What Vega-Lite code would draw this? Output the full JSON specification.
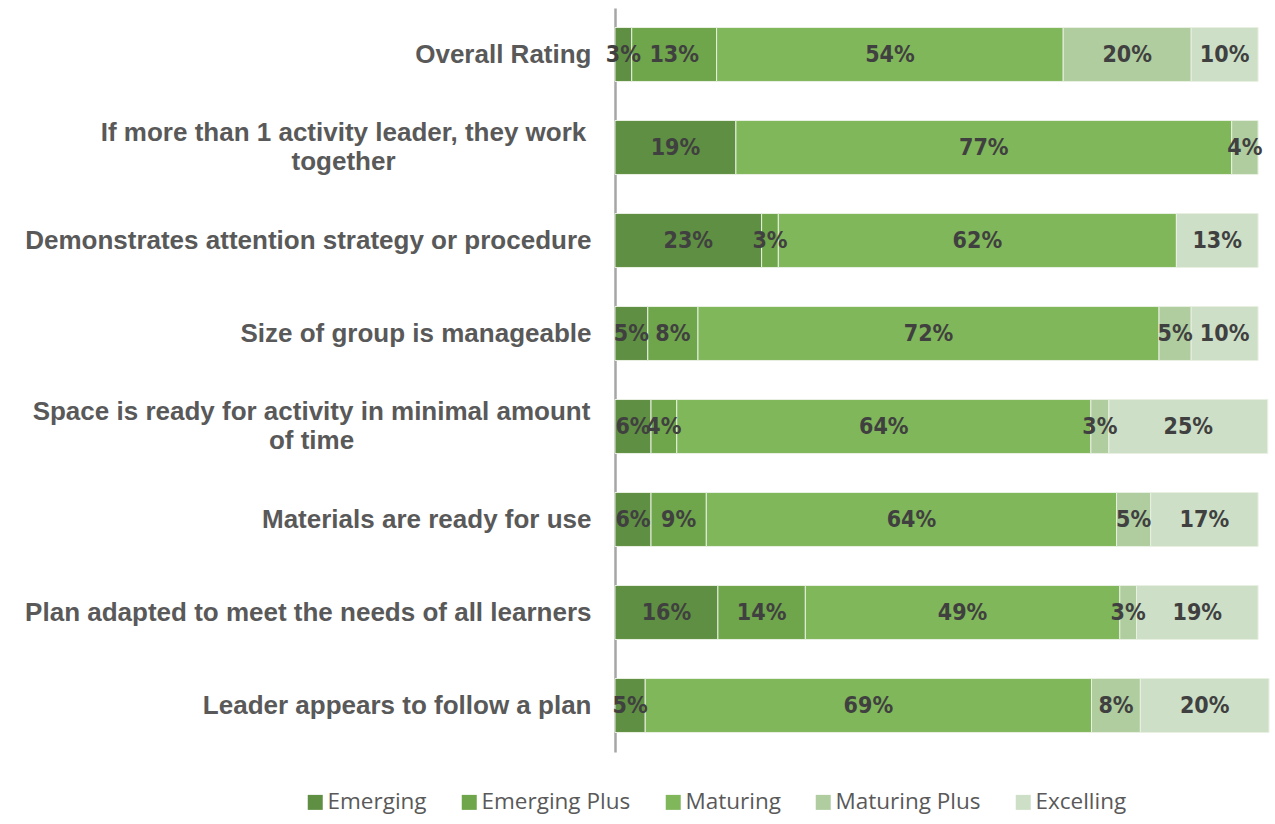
{
  "$schema": "https://vega.github.io/schema/vega-lite/v6.json",
  "width": 654,
  "height": 744,
  "autosize": "none",
  "padding": {"left": 615, "top": 8, "right": 4, "bottom": 72},
  "background": "white",
  "config": {"view": {"stroke": null}},
  "data": {"values": [
    {"item": "Overall Rating", "level": "Emerging", "ord": 1, "pct": 0.026},
    {"item": "Overall Rating", "level": "Emerging Plus", "ord": 2, "pct": 0.132},
    {"item": "Overall Rating", "level": "Maturing", "ord": 3, "pct": 0.539},
    {"item": "Overall Rating", "level": "Maturing Plus", "ord": 4, "pct": 0.199},
    {"item": "Overall Rating", "level": "Excelling", "ord": 5, "pct": 0.104},
    {"item": "If more than 1 activity leader, they work together", "level": "Emerging", "ord": 1, "pct": 0.188},
    {"item": "If more than 1 activity leader, they work together", "level": "Maturing", "ord": 3, "pct": 0.771},
    {"item": "If more than 1 activity leader, they work together", "level": "Maturing Plus", "ord": 4, "pct": 0.041},
    {"item": "Demonstrates attention strategy or procedure", "level": "Emerging", "ord": 1, "pct": 0.228},
    {"item": "Demonstrates attention strategy or procedure", "level": "Emerging Plus", "ord": 2, "pct": 0.026},
    {"item": "Demonstrates attention strategy or procedure", "level": "Maturing", "ord": 3, "pct": 0.619},
    {"item": "Demonstrates attention strategy or procedure", "level": "Excelling", "ord": 5, "pct": 0.127},
    {"item": "Size of group is manageable", "level": "Emerging", "ord": 1, "pct": 0.051},
    {"item": "Size of group is manageable", "level": "Emerging Plus", "ord": 2, "pct": 0.078},
    {"item": "Size of group is manageable", "level": "Maturing", "ord": 3, "pct": 0.717},
    {"item": "Size of group is manageable", "level": "Maturing Plus", "ord": 4, "pct": 0.050},
    {"item": "Size of group is manageable", "level": "Excelling", "ord": 5, "pct": 0.104},
    {"item": "Space is ready for activity in minimal amount of time", "level": "Emerging", "ord": 1, "pct": 0.056},
    {"item": "Space is ready for activity in minimal amount of time", "level": "Emerging Plus", "ord": 2, "pct": 0.040},
    {"item": "Space is ready for activity in minimal amount of time", "level": "Maturing", "ord": 3, "pct": 0.644},
    {"item": "Space is ready for activity in minimal amount of time", "level": "Maturing Plus", "ord": 4, "pct": 0.028},
    {"item": "Space is ready for activity in minimal amount of time", "level": "Excelling", "ord": 5, "pct": 0.247},
    {"item": "Materials are ready for use", "level": "Emerging", "ord": 1, "pct": 0.056},
    {"item": "Materials are ready for use", "level": "Emerging Plus", "ord": 2, "pct": 0.086},
    {"item": "Materials are ready for use", "level": "Maturing", "ord": 3, "pct": 0.638},
    {"item": "Materials are ready for use", "level": "Maturing Plus", "ord": 4, "pct": 0.053},
    {"item": "Materials are ready for use", "level": "Excelling", "ord": 5, "pct": 0.167},
    {"item": "Plan adapted to meet the needs of all learners", "level": "Emerging", "ord": 1, "pct": 0.160},
    {"item": "Plan adapted to meet the needs of all learners", "level": "Emerging Plus", "ord": 2, "pct": 0.136},
    {"item": "Plan adapted to meet the needs of all learners", "level": "Maturing", "ord": 3, "pct": 0.489},
    {"item": "Plan adapted to meet the needs of all learners", "level": "Maturing Plus", "ord": 4, "pct": 0.026},
    {"item": "Plan adapted to meet the needs of all learners", "level": "Excelling", "ord": 5, "pct": 0.189},
    {"item": "Leader appears to follow a plan", "level": "Emerging", "ord": 1, "pct": 0.047},
    {"item": "Leader appears to follow a plan", "level": "Maturing", "ord": 3, "pct": 0.694},
    {"item": "Leader appears to follow a plan", "level": "Maturing Plus", "ord": 4, "pct": 0.076},
    {"item": "Leader appears to follow a plan", "level": "Excelling", "ord": 5, "pct": 0.200}
  ]},
  "encoding": {
    "y": {
      "field": "item",
      "type": "nominal",
      "sort": null,
      "scale": {"paddingInner": 0.42, "paddingOuter": 0.21},
      "axis": {
        "title": null,
        "ticks": false,
        "domainColor": "#a6a6a6",
        "domainWidth": 2.5,
        "labelFont": "Liberation Sans",
        "labelFontWeight": "bold",
        "labelFontSize": 26,
        "labelColor": "#595959",
        "labelLimit": 700,
        "labelLineHeight": 29,
        "labelAlign": {"condition": {"test": "indexof(datum.label, 'they work') >= 0 || indexof(datum.label, 'minimal') >= 0", "value": "center"}, "value": "right"},
        "labelPadding": {"condition": [{"test": "indexof(datum.label, 'they work') >= 0", "value": 272}, {"test": "indexof(datum.label, 'minimal') >= 0", "value": 304}], "value": 24},
        "labelOffset": {"condition": {"test": "indexof(datum.label, 'they work') >= 0 || indexof(datum.label, 'minimal') >= 0", "value": -14.5}, "value": 0},
        "labelExpr": "indexof(datum.label, 'they work') >= 0 ? ['If more than 1 activity leader, they work', 'together'] : indexof(datum.label, 'minimal') >= 0 ? ['Space is ready for activity in minimal amount', 'of time'] : datum.label"
      }
    },
    "x": {
      "field": "pct",
      "type": "quantitative",
      "stack": "zero",
      "scale": {"domain": [0, 1.017], "nice": false, "zero": true},
      "axis": null
    },
    "order": {"field": "ord", "type": "quantitative"}
  },
  "layer": [
    {
      "mark": {"type": "bar", "stroke": "#e8f0e2", "strokeWidth": 1},
      "encoding": {
        "color": {
          "field": "level",
          "type": "nominal",
          "scale": {
            "domain": ["Emerging", "Emerging Plus", "Maturing", "Maturing Plus", "Excelling"],
            "range": ["#5f8f42", "#6fa54b", "#80b75a", "#afcd9f", "#cddfc7"]
          },
          "legend": {
            "title": null,
            "orient": "none",
            "direction": "horizontal",
            "legendX": -311,
            "legendY": 783,
            "symbolType": "square",
            "symbolSize": 225,
            "symbolStrokeWidth": 0,
            "symbolOpacity": 1,
            "labelFont": "Open Sans",
            "labelFontSize": 22.5,
            "labelColor": "#595959",
            "labelOffset": 1,
            "columnPadding": 31,
            "labelLimit": 300
          }
        }
      }
    },
    {
      "mark": {"type": "text", "font": "'Liberation Sans Narrow', 'DejaVu Sans Condensed', sans-serif", "fontWeight": "bold", "fontSize": 23, "color": "#404040", "baseline": "middle", "align": "center"},
      "encoding": {
        "x": {"field": "pct", "type": "quantitative", "stack": "zero", "bandPosition": 0.5},
        "text": {"field": "pct", "type": "quantitative", "format": ".0%"}
      }
    }
  ]
}
